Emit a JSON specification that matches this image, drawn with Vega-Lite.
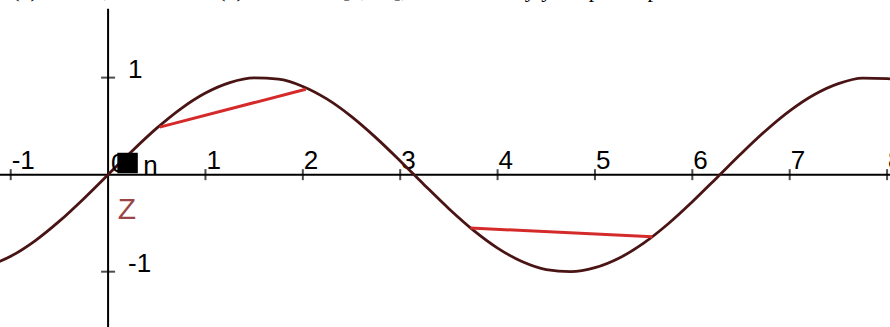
{
  "$schema": "https://vega.github.io/schema/vega-lite/v6.json",
  "width": 890,
  "height": 327,
  "autosize": "none",
  "padding": 0,
  "background": "white",
  "config": {"view": {"stroke": null}},
  "datasets": {
    "curve": [
      {"x": -1.25, "y": -0.949}, {"x": -1.0, "y": -0.8415}, {"x": -0.75, "y": -0.6816},
      {"x": -0.5, "y": -0.4794}, {"x": -0.25, "y": -0.2474}, {"x": 0.0, "y": 0.0},
      {"x": 0.25, "y": 0.2474}, {"x": 0.5, "y": 0.4794}, {"x": 0.75, "y": 0.6816},
      {"x": 1.0, "y": 0.8415}, {"x": 1.25, "y": 0.949}, {"x": 1.5, "y": 0.9975},
      {"x": 1.75, "y": 0.984}, {"x": 2.0, "y": 0.9093}, {"x": 2.25, "y": 0.7781},
      {"x": 2.5, "y": 0.5985}, {"x": 2.75, "y": 0.3817}, {"x": 3.0, "y": 0.1411},
      {"x": 3.25, "y": -0.1082}, {"x": 3.5, "y": -0.3508}, {"x": 3.75, "y": -0.5716},
      {"x": 4.0, "y": -0.7568}, {"x": 4.25, "y": -0.895}, {"x": 4.5, "y": -0.9775},
      {"x": 4.75, "y": -0.9993}, {"x": 5.0, "y": -0.9589}, {"x": 5.25, "y": -0.8589},
      {"x": 5.5, "y": -0.7055}, {"x": 5.75, "y": -0.5083}, {"x": 6.0, "y": -0.2794},
      {"x": 6.25, "y": -0.0332}, {"x": 6.5, "y": 0.2151}, {"x": 6.75, "y": 0.45},
      {"x": 7.0, "y": 0.657}, {"x": 7.25, "y": 0.8231}, {"x": 7.5, "y": 0.938},
      {"x": 7.75, "y": 0.9946}, {"x": 8.0, "y": 0.9894}, {"x": 8.25, "y": 0.9168}
    ],
    "chords": [
      {"chord": "a", "x": 0.53, "y": 0.49}, {"chord": "a", "x": 2.03, "y": 0.88},
      {"chord": "b", "x": 3.72, "y": -0.55}, {"chord": "b", "x": 5.59, "y": -0.64}
    ],
    "xticks": [
      {"v": -1, "label": "-1"}, {"v": 1, "label": "1"}, {"v": 2, "label": "2"},
      {"v": 3, "label": "3"}, {"v": 4, "label": "4"}, {"v": 5, "label": "5"},
      {"v": 6, "label": "6"}, {"v": 7, "label": "7"}, {"v": 8, "label": "8"}
    ],
    "yticks": [
      {"v": 1, "label": "1"}, {"v": -1, "label": "-1"}
    ],
    "axes": [
      {"x": -1.2, "x2": 8.2, "y": 0, "y2": 0},
      {"x": 0, "x2": 0, "y": 1.71, "y2": -1.7}
    ]
  },
  "layer": [
    {
      "data": {"name": "axes"},
      "mark": {"type": "rule", "color": "black", "strokeWidth": 2},
      "encoding": {
        "x": {"field": "x", "type": "quantitative", "scale": {"domain": [-1.11, 8.03], "nice": false, "zero": false}, "axis": null},
        "x2": {"field": "x2"},
        "y": {"field": "y", "type": "quantitative", "scale": {"domain": [-1.57, 1.8], "nice": false, "zero": false}, "axis": null},
        "y2": {"field": "y2"}
      }
    },
    {
      "data": {"name": "xticks"},
      "mark": {"type": "tick", "orient": "vertical", "color": "black", "size": 11, "thickness": 2},
      "encoding": {
        "x": {"field": "v", "type": "quantitative"},
        "y": {"datum": 0, "type": "quantitative"}
      }
    },
    {
      "data": {"name": "xticks"},
      "mark": {"type": "text", "align": "left", "baseline": "alphabetic", "dx": 1, "dy": -6, "font": "Liberation Sans", "fontSize": 26, "color": "black"},
      "encoding": {
        "x": {"field": "v", "type": "quantitative"},
        "y": {"datum": 0, "type": "quantitative"},
        "text": {"field": "label"}
      }
    },
    {
      "data": {"name": "yticks"},
      "mark": {"type": "tick", "orient": "horizontal", "color": "black", "size": 14, "thickness": 2},
      "encoding": {
        "x": {"datum": 0, "type": "quantitative"},
        "y": {"field": "v", "type": "quantitative"}
      }
    },
    {
      "data": {"name": "yticks"},
      "mark": {"type": "text", "align": "left", "baseline": "alphabetic", "dx": 20, "dy": 0, "font": "Liberation Sans", "fontSize": 26, "color": "black"},
      "encoding": {
        "x": {"datum": 0, "type": "quantitative"},
        "y": {"field": "v", "type": "quantitative"},
        "text": {"field": "label"}
      }
    },
    {
      "data": {"name": "curve"},
      "mark": {"type": "line", "color": "#4a1414", "strokeWidth": 2.8, "interpolate": "monotone"},
      "encoding": {
        "x": {"field": "x", "type": "quantitative"},
        "y": {"field": "y", "type": "quantitative"}
      }
    },
    {
      "data": {"name": "chords"},
      "mark": {"type": "line", "color": "#d42a2a", "strokeWidth": 3},
      "encoding": {
        "x": {"field": "x", "type": "quantitative"},
        "y": {"field": "y", "type": "quantitative"},
        "detail": {"field": "chord"}
      }
    },
    {
      "data": {"values": [{"x": 0, "y": 0, "t": "0"}]},
      "mark": {"type": "text", "align": "left", "baseline": "alphabetic", "dx": 3, "dy": -3, "font": "Liberation Sans", "fontSize": 26, "color": "black"},
      "encoding": {
        "x": {"field": "x", "type": "quantitative"},
        "y": {"field": "y", "type": "quantitative"},
        "text": {"field": "t"}
      }
    },
    {
      "data": {"values": [{"x": 0.2, "y": 0.12}]},
      "mark": {"type": "square", "filled": true, "color": "black", "opacity": 1, "size": 420},
      "encoding": {
        "x": {"field": "x", "type": "quantitative"},
        "y": {"field": "y", "type": "quantitative"}
      }
    },
    {
      "data": {"values": [{"x": 0.36, "y": 0, "t": "n"}]},
      "mark": {"type": "text", "align": "left", "baseline": "alphabetic", "dy": -1, "font": "Liberation Sans", "fontSize": 26, "color": "black"},
      "encoding": {
        "x": {"field": "x", "type": "quantitative"},
        "y": {"field": "y", "type": "quantitative"},
        "text": {"field": "t"}
      }
    },
    {
      "data": {"values": [{"x": 0.1, "y": -0.46, "t": "Z"}]},
      "mark": {"type": "text", "align": "left", "baseline": "alphabetic", "font": "Liberation Sans", "fontSize": 30, "color": "#9a4646"},
      "encoding": {
        "x": {"field": "x", "type": "quantitative"},
        "y": {"field": "y", "type": "quantitative"},
        "text": {"field": "t"}
      }
    },
    {
      "data": {"values": [{"x": -1.06, "y": 1.8, "t": "f(x) = sin x, and where f(x) = sin x on [0, 2π], then for every y we pick a p"}]},
      "mark": {"type": "text", "align": "left", "baseline": "alphabetic", "dy": -3, "font": "Liberation Serif", "fontSize": 22, "color": "black"},
      "encoding": {
        "x": {"field": "x", "type": "quantitative"},
        "y": {"field": "y", "type": "quantitative"},
        "text": {"field": "t"}
      }
    }
  ]
}
